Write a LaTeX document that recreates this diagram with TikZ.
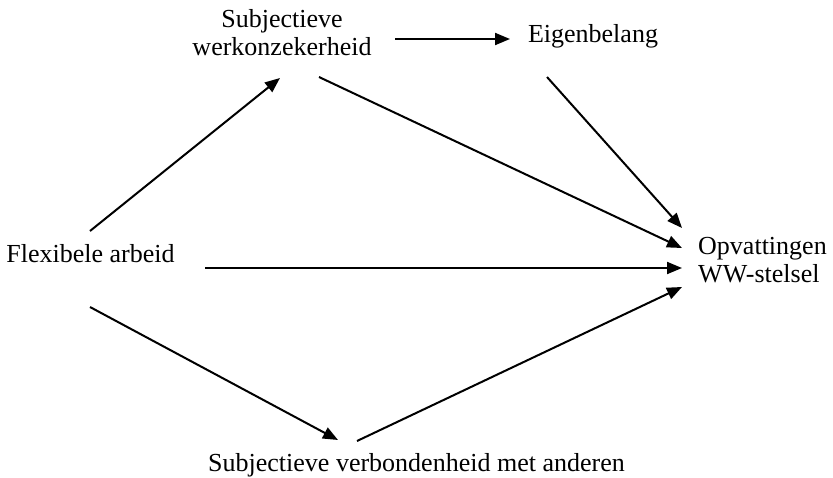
\documentclass[tikz,border=0pt]{standalone}
\usepackage{fontspec}
\setmainfont{Liberation Serif}
\usetikzlibrary{arrows.meta,calc}
\begin{document}
\begin{tikzpicture}[x=1pt,y=-1pt,
  lbl/.style={inner sep=0pt,font=\fontsize{26}{28}\selectfont},
  arr/.style={line width=2pt,-{Triangle[length=15pt,width=12pt]}}]
\useasboundingbox (0,0) rectangle (833,477);
\node[lbl,anchor=base] (flex) at (90.5,262) {Flexibele arbeid};
\node[lbl,anchor=base] (eig) at (593,42) {Eigenbelang};
\node[lbl,anchor=base] (sv) at (416.5,471) {Subjectieve verbondenheid met anderen};
\node[lbl,align=center,anchor=base] (sw) at (282,55) {Subjectieve\\werkonzekerheid};
\node[lbl,align=left,anchor=base west] (opv) at (698,282) {Opvattingen\\WW-stelsel};
\draw[arr] ($(flex.base)+(-0.5,-31)$) -- ($(sw.base)+(-2,23)$);
\draw[arr] ($(sw.base)+(113,-16)$) -- ($(eig.base)+(-83,-3)$);
\draw[arr] ($(sw.base)+(37,22)$) -- ($(opv.base west)+(-16,-34)$);
\draw[arr] ($(eig.base)+(-46,35)$) -- ($(opv.base west)+(-16,-54)$);
\draw[arr] ($(flex.base)+(114.5,6)$) -- ($(opv.base west)+(-16,-14)$);
\draw[arr] ($(flex.base)+(-0.5,45)$) -- ($(sv.base)+(-78.5,-31)$);
\draw[arr] ($(sv.base)+(-59.5,-30)$) -- ($(opv.base west)+(-16,5)$);
\end{tikzpicture}
\end{document}
